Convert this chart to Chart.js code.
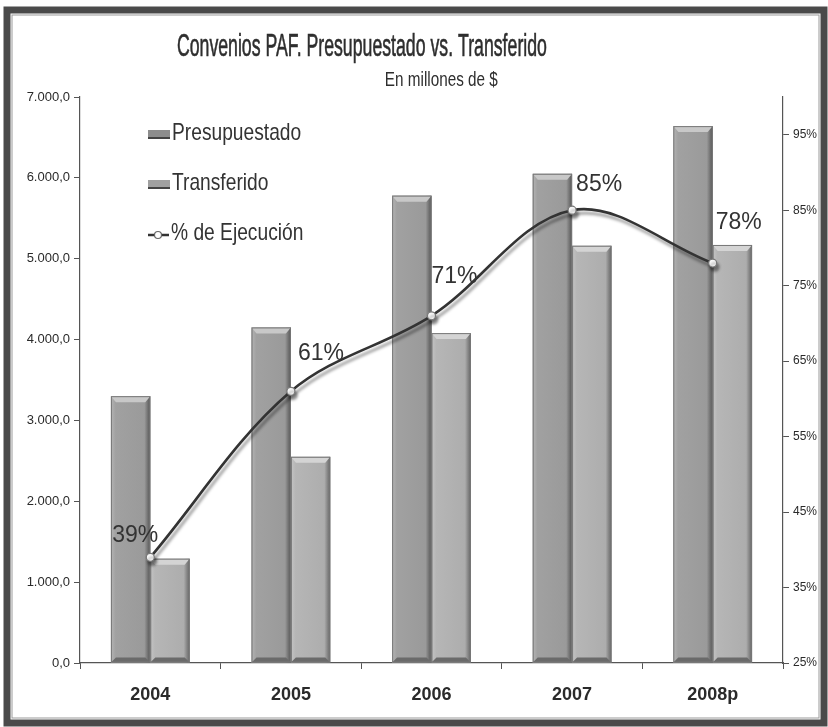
<!DOCTYPE html>
<html>
<head>
<meta charset="utf-8">
<script src="https://cdn.jsdelivr.net/npm/chart.js@4.4.1/dist/chart.umd.min.js"></script>
<style>
  html, body { margin: 0; padding: 0; background: #fff; }
  #wrap { position: relative; width: 828px; height: 727px; }
  canvas { display: block; }
</style>
</head>
<body>
<div id="wrap"><canvas id="c" width="828" height="727"></canvas></div>
<script>
// ---- Data ----
const categories = ['2004', '2005', '2006', '2007', '2008p'];
const presupuestado = [3300, 4150, 5780, 6050, 6640];
const transferido = [1290, 2550, 4080, 5160, 5170];
const ejecucion = [39, 61, 71, 85, 78];
const leftTicks = [0, 1000, 2000, 3000, 4000, 5000, 6000, 7000];
const rightTicks = [25, 35, 45, 55, 65, 75, 85, 95];
const titleText = 'Convenios PAF. Presupuestado vs. Transferido';
const subtitleText = 'En millones de $';

const SANS = '"Liberation Sans", Arial, sans-serif';

function fmtMiles(v) {
  const s = Math.round(v).toString().replace(/\B(?=(\d{3})+(?!\d))/g, '.');
  return s + ',0';
}

// draw condensed text (narrow look) using fillText's maxWidth
function narrowText(ctx, text, x, y, factor) {
  const w = ctx.measureText(text).width;
  ctx.fillText(text, x, y, w * factor);
}

// Frame + title
const framePlugin = {
  id: 'frame',
  beforeDraw(chart) {
    const ctx = chart.ctx;
    ctx.save();
    ctx.fillStyle = '#fff';
    ctx.fillRect(0, 0, chart.width, chart.height);
    ctx.strokeStyle = '#4a4a4a';
    ctx.lineWidth = 7;
    ctx.strokeRect(7, 10, chart.width - 11, chart.height - 14);
    ctx.strokeStyle = '#999';
    ctx.lineWidth = 1;
    ctx.strokeRect(12, 15, chart.width - 21, chart.height - 24);
    ctx.restore();
  },
  afterDraw(chart) {
    const ctx = chart.ctx;
    const a = chart.chartArea;
    ctx.save();
    ctx.fillStyle = '#2e2e2e';
    ctx.strokeStyle = '#2e2e2e';
    ctx.lineWidth = 0.6;
    ctx.textAlign = 'center';
    ctx.textBaseline = 'middle';
    ctx.font = '31px ' + SANS;
    const tx = a.left + (a.right - a.left) * 0.401;
    ctx.fillText(titleText, tx, 47, 370);
    ctx.strokeText(titleText, tx, 47, 370);
    ctx.font = '21px ' + SANS;
    ctx.fillText(subtitleText, a.left + (a.right - a.left) * 0.514, 80, 113);
    ctx.restore();
  }
};

// Bevel shading for the bars
const barShade = {
  id: 'barShade',
  afterDatasetDraw(chart, args) {
    const ds = chart.data.datasets[args.index];
    if (ds.type === 'line') return;
    const ctx = chart.ctx;
    const light = args.index === 1 ? 1 : 0;
    ctx.save();
    args.meta.data.forEach(el => {
      const { x, y, base, width } = el.getProps(['x', 'y', 'base', 'width'], true);
      const l = x - width / 2, r = x + width / 2;
      const g = ctx.createLinearGradient(l, 0, r, 0);
      if (light) {
        g.addColorStop(0, '#c4c4c4');
        g.addColorStop(0.12, '#b6b6b6');
        g.addColorStop(0.85, '#adadad');
        g.addColorStop(0.93, '#858585');
        g.addColorStop(1, '#666');
      } else {
        g.addColorStop(0, '#b4b4b4');
        g.addColorStop(0.12, '#a1a1a1');
        g.addColorStop(0.85, '#9a9a9a');
        g.addColorStop(0.93, '#747474');
        g.addColorStop(1, '#555');
      }
      ctx.fillStyle = g;
      ctx.fillRect(l, y, width, base - y);
      // top bevel
      ctx.fillStyle = light ? '#d4d4d4' : '#c8c8c8';
      ctx.beginPath();
      ctx.moveTo(l, y);
      ctx.lineTo(r, y);
      ctx.lineTo(r - 5, y + 6);
      ctx.lineTo(l + 5, y + 6);
      ctx.closePath();
      ctx.fill();
      // bottom bevel
      ctx.fillStyle = '#6a6a6a';
      ctx.beginPath();
      ctx.moveTo(l, base);
      ctx.lineTo(r, base);
      ctx.lineTo(r - 5, base - 5);
      ctx.lineTo(l + 5, base - 5);
      ctx.closePath();
      ctx.fill();
      ctx.strokeStyle = '#777';
      ctx.lineWidth = 1;
      ctx.strokeRect(l + 0.5, y + 0.5, width - 1, base - y - 1);
    });
    ctx.restore();
  }
};

// Shadow for the line
const lineShadow = {
  id: 'lineShadow',
  beforeDatasetDraw(chart, args) {
    if (chart.data.datasets[args.index].type !== 'line') return;
    const ctx = chart.ctx;
    ctx.save();
    ctx.shadowColor = 'rgba(0,0,0,0.4)';
    ctx.shadowOffsetX = 2;
    ctx.shadowOffsetY = 4;
    ctx.shadowBlur = 3;
  },
  afterDatasetDraw(chart, args) {
    if (chart.data.datasets[args.index].type !== 'line') return;
    chart.ctx.restore();
  }
};

// Data labels for the % line
const pctLabels = {
  id: 'pctLabels',
  afterDatasetsDraw(chart, args, opts) {
    const idx = chart.data.datasets.findIndex(d => d.type === 'line');
    const meta = chart.getDatasetMeta(idx);
    const ctx = chart.ctx;
    ctx.save();
    ctx.font = '23px ' + SANS;
    ctx.fillStyle = '#333';
    ctx.textBaseline = 'bottom';
    meta.data.forEach((pt, i) => {
      const o = opts.place[i];
      ctx.textAlign = o.align;
      ctx.fillText(chart.data.datasets[idx].data[i] + '%', pt.x + o.dx, pt.y + o.dy);
    });
    ctx.restore();
  }
};

// Legend inside the plot area
const innerLegend = {
  id: 'innerLegend',
  afterDraw(chart) {
    const ctx = chart.ctx;
    const a = chart.chartArea;
    const x0 = a.left + 68, y0 = a.top + 36, gap = 50;
    ctx.save();
    ctx.font = '24px ' + SANS;
    ctx.textBaseline = 'middle';
    ctx.textAlign = 'left';
    chart.data.datasets.forEach((ds, i) => {
      const y = y0 + i * gap;
      if (ds.type === 'line') {
        ctx.strokeStyle = '#333';
        ctx.lineWidth = 2.5;
        ctx.beginPath();
        ctx.moveTo(x0, y + 2);
        ctx.lineTo(x0 + 21, y + 2);
        ctx.stroke();
        ctx.fillStyle = '#fff';
        ctx.strokeStyle = '#666';
        ctx.lineWidth = 1.2;
        ctx.beginPath();
        ctx.arc(x0 + 10, y + 2, 3.5, 0, Math.PI * 2);
        ctx.fill();
        ctx.stroke();
      } else {
        ctx.fillStyle = i === 0 ? '#8d8d8d' : '#a0a0a0';
        ctx.fillRect(x0, y - 3, 22, 9);
        ctx.fillStyle = '#444';
        ctx.fillRect(x0, y + 4, 22, 2);
      }
      ctx.fillStyle = '#333';
      narrowText(ctx, ds.label, x0 + (ds.type === 'line' ? 23 : 24), y, 0.8);
    });
    ctx.restore();
  }
};

new Chart(document.getElementById('c'), {
  data: {
    labels: categories,
    datasets: [
      {
        type: 'bar', label: 'Presupuestado', data: presupuestado, yAxisID: 'y',
        backgroundColor: '#a0a0a0', borderWidth: 0,
        categoryPercentage: 0.56, barPercentage: 1, order: 2
      },
      {
        type: 'bar', label: 'Transferido', data: transferido, yAxisID: 'y',
        backgroundColor: '#b4b4b4', borderWidth: 0,
        categoryPercentage: 0.56, barPercentage: 1, order: 2
      },
      {
        type: 'line', label: '% de Ejecución', data: ejecucion, yAxisID: 'y1',
        borderColor: '#333', borderWidth: 2.6, tension: 0.35,
        pointRadius: 4, pointBackgroundColor: '#fafafa', pointBorderColor: '#777',
        pointBorderWidth: 1.2, order: 1
      }
    ]
  },
  options: {
    responsive: false,
    animation: false,
    layout: { padding: { top: 97, left: 0, right: 0, bottom: 0 } },
    plugins: {
      legend: { display: false },
      title: { display: false },
      tooltip: { enabled: false },
      pctLabels: {
        place: [
          { align: 'right', dx: 8, dy: -10 },
          { align: 'left', dx: 7, dy: -26 },
          { align: 'left', dx: 0, dy: -28 },
          { align: 'left', dx: 4, dy: -14 },
          { align: 'left', dx: 3, dy: -29 }
        ]
      }
    },
    scales: {
      x: {
        grid: { display: true, drawOnChartArea: false, drawTicks: true, tickLength: 6, color: '#555', offset: true },
        border: { display: true, color: '#555', width: 1.2 },
        ticks: { color: '#2a2a2a', font: { family: SANS, size: 18, weight: 'bold' }, padding: 15 },
        afterFit(s) { s.height = 727 - 663; }
      },
      y: {
        position: 'left', min: 0, max: 7000,
        grid: { display: true, drawOnChartArea: false, tickLength: 6, color: '#555' },
        border: { display: true, color: '#555', width: 1.2 },
        ticks: { color: '#2a2a2a', font: { family: SANS, size: 13 }, padding: 4, callback: v => fmtMiles(v) },
        afterBuildTicks(s) { s.ticks = leftTicks.map(v => ({ value: v })); },
        afterFit(s) { s.width = 80; }
      },
      y1: {
        position: 'right', min: 25, max: 100,
        grid: { display: true, drawOnChartArea: false, tickLength: 6, color: '#555' },
        border: { display: true, color: '#555', width: 1.2 },
        ticks: { color: '#2a2a2a', font: { family: SANS, size: 12 }, padding: 4, callback: v => v + '%' },
        afterBuildTicks(s) { s.ticks = rightTicks.map(v => ({ value: v })); },
        afterFit(s) { s.width = 828 - 783; }
      }
    }
  },
  plugins: [framePlugin, barShade, lineShadow, pctLabels, innerLegend]
});
</script>
</body>
</html>
